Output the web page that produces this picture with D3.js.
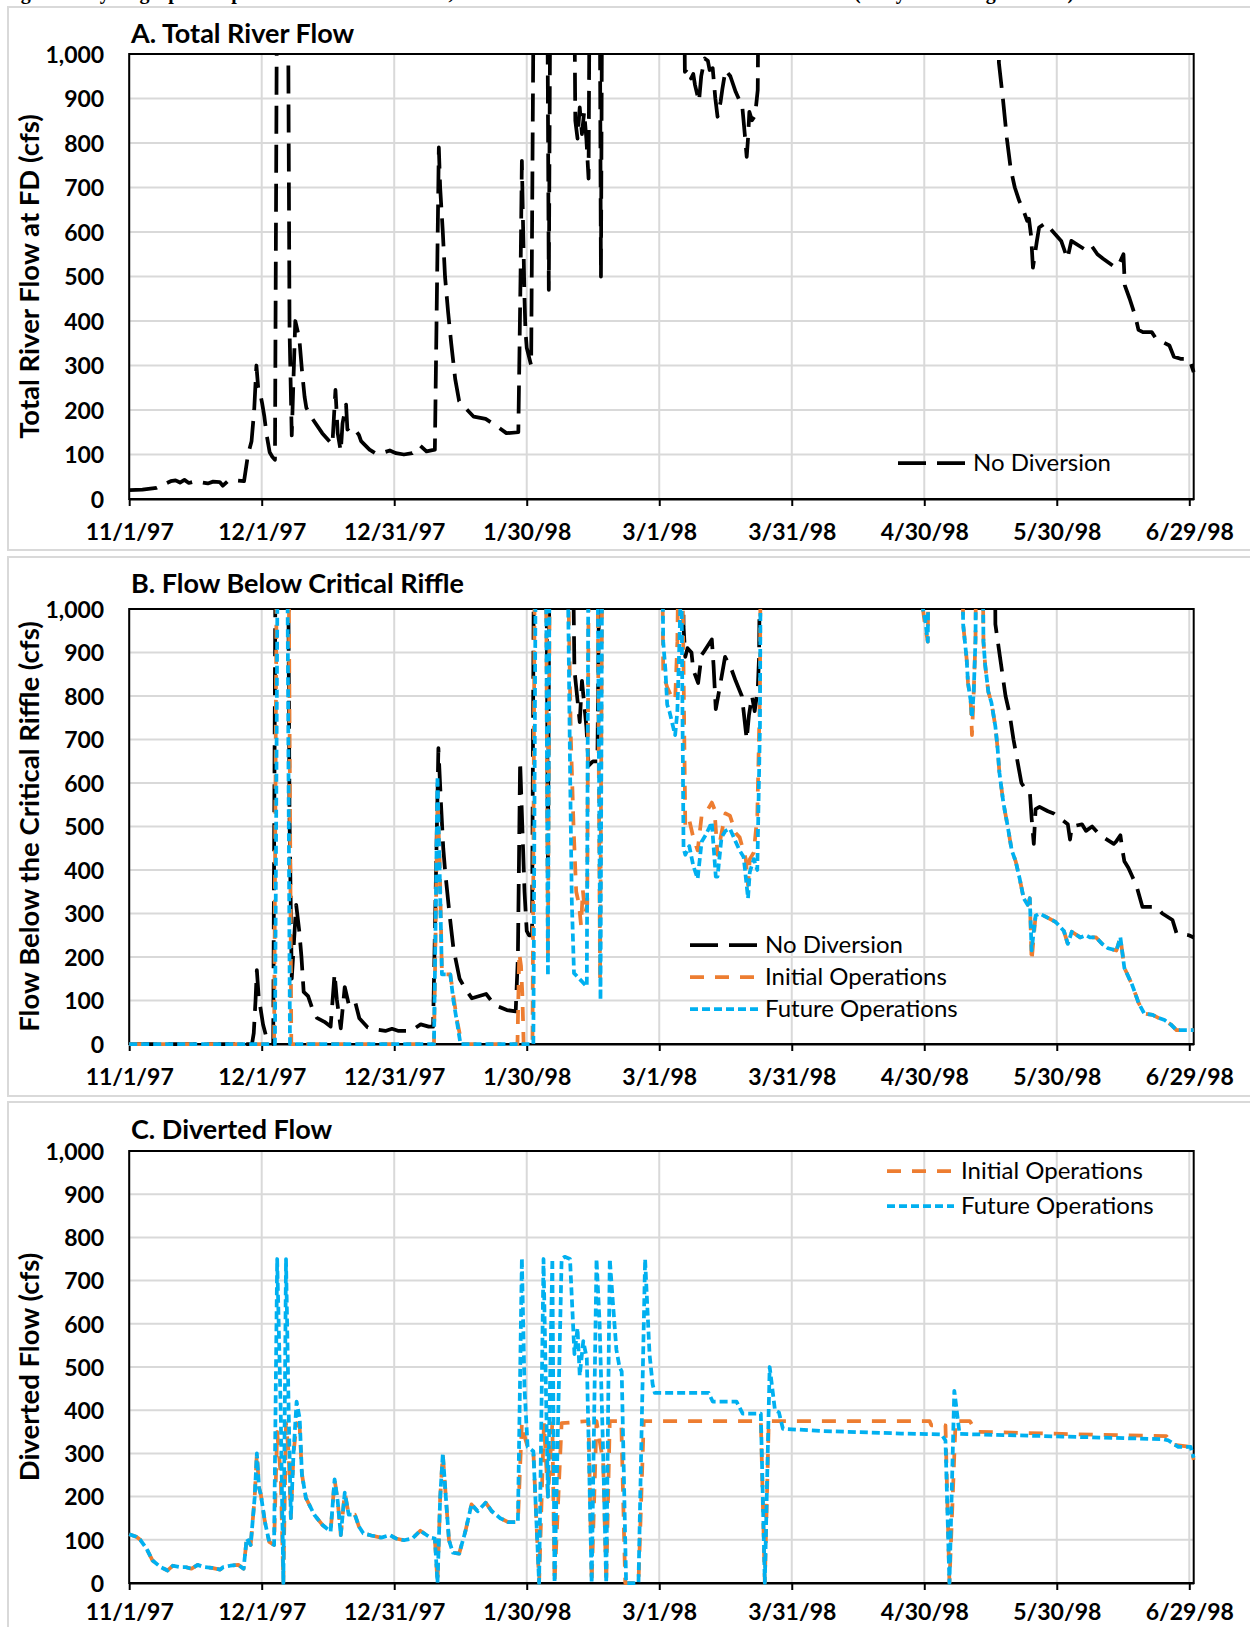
<!DOCTYPE html>
<html><head><meta charset="utf-8">
<script src="https://cdn.jsdelivr.net/npm/d3@7"></script>
<style>
body{margin:0;background:#fff}
svg{display:block}
text{font-family:Lato,"Open Sans",sans-serif}
</style>
</head><body>
<svg id="chart" width="1250" height="1627"></svg>
<script>
// ---------- DATA (day offset from 11/1/97, flow in cfs; 1500 = off-scale above 1,000) ----------
const startDate = Date.UTC(1997, 10, 1);
const lastDay = 241;
const tickDays = [0, 30, 60, 90, 120, 150, 180, 210, 240];
const tickLabels = ["11/1/97","12/1/97","12/31/97","1/30/98","3/1/98","3/31/98","4/30/98","5/30/98","6/29/98"];
const yTickValues = [0,100,200,300,400,500,600,700,800,900,1000];
const panelTitles = ["A. Total River Flow","B. Flow Below Critical Riffle","C. Diverted Flow"];
const axisTitles = ["Total River Flow at FD (cfs)","Flow Below the Critical Riffle (cfs)","Diverted Flow (cfs)"];
const seriesNames = ["No Diversion","Initial Operations","Future Operations"];
const captionText = "Figure 7. Hydrograph comparison of total river flow, flow below the critical riffle and diverted flow (wet year during 1997-98)";

const totalNoDiversion = [[0,20],[3,21],[6.2,25],[9.4,40],[10.5,42],[11.5,37],[12.5,43],[13.5,36],[15,40],[17.8,35],[19,39],[20.5,38],[21.2,30],[22.3,40],[24,42],[26,40],[26.9,100],[27.7,130],[28.3,200],[28.8,300],[29.2,250],[29.6,240],[30.1,215],[30.6,185],[31.1,145],[31.8,105],[32.4,95],[33,88],[33.6,1500],[35.8,1500],[36.3,380],[36.8,143],[37.6,400],[38.3,370],[38.6,350],[39.1,290],[39.7,230],[40.1,205],[41.5,180],[43.7,148],[46,122],[46.7,245],[47.2,148],[47.9,107],[48.3,170],[49.1,212],[49.4,156],[50.2,163],[51.1,156],[52,144],[52.5,130],[54.4,111],[55.7,103],[57.1,103],[59,109],[60.4,103],[62.2,100],[64.1,103],[65.9,120],[67.3,107],[69.2,111],[70.1,790],[70.4,700],[71,600],[71.5,500],[72.2,420],[72.9,350],[73.8,270],[74.7,220],[75.6,210],[78,185],[80.7,180],[83,165],[85.4,148],[88.1,150],[88.6,500],[88.9,760],[89.1,650],[89.3,550],[89.5,450],[89.7,380],[90,340],[90.5,320],[91,300],[91.8,1500],[94.5,1500],[95,470],[95.5,1500],[100.5,1500],[101,850],[101.5,810],[102,880],[102.5,820],[103,870],[103.5,810],[104,720],[104.4,1500],[106.4,1500],[106.8,500],[107.2,1500],[125.4,1500],[125.8,960],[126.5,968],[127.2,945],[127.7,955],[128.1,930],[129,893],[129.5,950],[130.3,990],[131,985],[131.4,964],[132.1,968],[132.7,900],[133.2,859],[133.9,893],[134.3,922],[135,964],[136.1,950],[137.3,915],[138.8,882],[139.4,816],[139.8,769],[140.1,810],[140.4,870],[141,851],[141.7,862],[142.3,919],[142.7,1500],[196.5,1500],[196.9,980],[197.8,900],[198.7,810],[199.6,740],[200.5,700],[201.5,670],[202.4,650],[203.3,625],[203.7,630],[204.2,590],[204.6,520],[205.5,580],[206,610],[207.4,620],[209.2,600],[211,580],[212.4,540],[213.3,580],[216.5,560],[217.8,570],[219.2,550],[220.5,540],[223.3,520],[224.2,530],[225.1,550],[225.4,480],[226.5,450],[227.8,410],[228.5,380],[229.5,375],[231.5,375],[232.5,360],[235.5,345],[236.5,320],[238,315],[240,315],[241,285]];

const belowNoDiversion = [[0,0],[27.8,0],[28.2,25],[28.6,100],[28.9,170],[29.3,110],[30.3,45],[31.2,10],[32.2,5],[32.6,0],[33.3,1500],[35.8,1500],[36.3,520],[36.8,150],[37.8,320],[38.5,260],[39,200],[39.5,120],[40.5,110],[41.5,80],[42.5,60],[44.2,51],[45.6,40],[46.5,162],[47,103],[47.9,36],[48.8,131],[49.8,87],[51.2,95],[52.1,59],[54,38],[56,33],[58,30],[59.5,35],[61,30],[63.7,30],[66,45],[67.8,40],[68.8,40],[70,680],[70.6,550],[71.1,450],[71.5,400],[72.5,300],[73.4,220],[74.8,150],[76.2,125],[77.6,105],[80.8,115],[82.7,90],[85.5,78],[87.5,75],[88,200],[88.5,650],[89,500],[89.5,350],[90,260],[90.5,250],[91.2,250],[91.8,1500],[94.3,1500],[94.8,400],[95.3,1500],[100,1500],[100.8,860],[101.5,790],[102,740],[102.5,835],[103.5,730],[104,640],[105,650],[106,650],[106.8,1500],[125.1,1500],[125.5,960],[125.9,890],[126.4,910],[127.3,900],[127.7,860],[128.8,830],[129.6,895],[130,900],[131.9,930],[132.3,870],[132.8,770],[133.7,820],[134.9,890],[136.4,860],[137.3,835],[138.7,800],[139.1,765],[139.8,700],[140.3,755],[141,800],[141.6,765],[142.3,815],[142.6,890],[143.1,1500],[195.8,1500],[196.1,965],[197,900],[198.4,800],[199.3,760],[200.2,700],[201.1,650],[202,600],[203,585],[203.9,580],[204.3,520],[204.8,460],[205.2,540],[206.1,545],[208,535],[209.3,530],[212.5,505],[213,470],[213.4,500],[215.7,505],[216.6,490],[218,500],[219.8,480],[222.9,460],[223.4,465],[224.4,480],[224.8,450],[225.3,420],[226.2,405],[227.1,385],[228,365],[229.4,315],[232.6,315],[233.9,300],[236.2,285],[237.1,255],[239.9,250],[241,245]];

const belowInitial = [[0,0],[32.8,0],[33.6,1500],[35.9,1500],[36.7,0],[69,0],[69.8,560],[70.3,420],[70.8,160],[72.7,160],[73.4,110],[74.3,50],[75.3,0],[87.9,0],[88.3,209],[88.7,180],[89,117],[89.3,0],[91.3,0],[92,1500],[94.2,1500],[94.8,200],[95.4,1500],[99,1500],[99.5,1000],[100,700],[100.6,500],[101.2,350],[101.8,323],[102.3,273],[102.7,354],[103.2,300],[103.7,320],[104.2,1500],[105.8,1500],[106.6,150],[107.3,1500],[120.4,1500],[120.9,850],[121.8,820],[122.7,800],[123.6,790],[124.1,925],[124.8,1500],[125.9,500],[126.8,515],[127.7,475],[128.7,445],[129.6,525],[130.5,530],[131.9,555],[132.5,540],[133.2,435],[134.1,485],[135,530],[136,525],[137.3,485],[138.2,475],[139.6,425],[140.1,365],[140.5,425],[141.4,440],[142.2,525],[142.8,810],[143.1,1500],[179,1500],[179.7,1000],[180.2,960],[180.8,925],[181.3,1500],[188.3,1500],[188.8,965],[189.6,885],[189.9,830],[190.5,790],[190.8,710],[191.2,810],[191.6,930],[192,1500],[192.9,1500],[193.4,925],[193.8,870],[194.5,810],[195.2,785],[196.1,730],[196.6,680],[197,625],[197.9,555],[198.9,500],[199.8,445],[200.7,420],[201.6,380],[202.5,335],[203.4,320],[203.9,335],[204.3,190],[205.2,295],[206.1,300],[208,290],[209.8,280],[211.6,260],[212.5,230],[213.4,258],[215.3,245],[216.6,250],[217.5,245],[218.9,245],[220.3,230],[221.6,220],[223.5,215],[224.4,245],[225.3,175],[226.2,155],[227.1,135],[228.5,95],[229.8,70],[231.7,67],[233,60],[234.4,55],[235.8,45],[237.1,32],[241,32]];

const belowFuture = [[0,0],[33,0],[33.8,1500],[35.6,1500],[36.4,0],[69,0],[69.8,615],[70.3,390],[70.8,160],[72.7,160],[73.4,100],[74.3,45],[75,0],[91.5,0],[92.2,1500],[94.2,1500],[94.8,157],[95.3,1500],[99,1500],[99.4,1000],[99.8,640],[100.2,330],[100.7,163],[103.6,132],[104.1,1500],[105.8,1500],[106.7,101],[107.2,1500],[120.3,1500],[120.9,925],[121.4,860],[121.8,780],[122.3,765],[123,735],[123.6,710],[124.1,765],[124.6,935],[125,1100],[125.5,450],[125.9,435],[126.8,455],[127.7,410],[128.7,380],[129.6,465],[130.5,480],[131.9,510],[132.8,385],[133.2,385],[134.1,475],[135,490],[136,495],[137.3,465],[138.2,445],[139.1,430],[140.1,335],[140.5,395],[141.4,425],[142.2,400],[142.8,730],[143.1,1500],[179,1500],[179.7,1000],[180.2,975],[180.8,925],[181.3,1500],[188.3,1500],[188.8,965],[189.6,885],[189.9,830],[190.5,790],[190.8,750],[191.2,810],[191.6,930],[192,1500],[192.9,1500],[193.4,925],[193.8,870],[194.5,810],[195.2,785],[196.1,730],[196.6,680],[197,625],[197.9,555],[198.9,500],[199.8,445],[200.7,420],[201.6,380],[202.5,335],[203.4,320],[203.9,335],[204.3,215],[205.2,295],[206.1,300],[208,290],[209.8,280],[211.6,260],[212.5,230],[213.4,258],[215.3,245],[216.6,250],[217.5,245],[218.9,245],[220.3,230],[221.6,220],[223.5,215],[224.4,245],[225.3,175],[226.2,155],[227.1,135],[228.5,95],[229.8,70],[231.7,67],[233,60],[234.4,55],[235.8,45],[237.1,32],[241,32]];

const divertedInitial = [[0,113],[1.6,107],[2.5,100],[3.9,80],[5.3,52],[7.1,37],[8.7,29],[9.9,40],[11.3,37],[12.7,37],[14.1,33],[15.5,42],[16.9,37],[18.7,35],[20.6,31],[21.3,37],[22.9,40],[24.7,42],[25.9,33],[26.6,103],[27.5,88],[28.4,197],[28.9,300],[29.4,220],[29.8,205],[30.7,143],[31.7,95],[32.8,88],[33.5,350],[34.3,250],[34.9,0],[35.5,370],[36.1,300],[36.6,150],[37.2,300],[37.9,370],[38.6,360],[39.1,252],[40,197],[41.9,158],[43.7,135],[45.6,119],[46.5,240],[47.2,190],[47.9,111],[48.8,209],[49.7,158],[51.1,158],[52,131],[53,115],[54.8,110],[57.1,105],[59,111],[60.4,103],[62.2,99],[64.1,103],[65.9,121],[68.2,105],[69.2,103],[69.8,0],[70.4,197],[71,299],[71.7,197],[72.4,99],[73.3,70],[74.7,68],[76.1,119],[77.5,182],[78.9,166],[80.7,186],[82.1,166],[84,150],[85.8,141],[88,141],[88.9,370],[89.5,340],[90.2,315],[91.5,305],[92.8,0],[93.9,370],[94.8,200],[95.8,370],[96.3,0],[97.9,370],[104,375],[104.7,0],[105.8,375],[106.5,330],[107.3,280],[108,0],[108.8,375],[111.4,375],[112.3,0],[115.3,0],[116.5,375],[143,375],[143.9,0],[144.8,375],[181.2,375],[181.6,365],[184.8,365],[185.7,0],[187.1,375],[190.3,375],[191.2,360],[192.1,350],[211.2,345],[234.8,340],[236.3,320],[240.3,315],[241,285]];

const divertedFuture = [[0,113],[1.6,107],[2.5,100],[3.9,80],[5.3,52],[7.1,37],[8.7,29],[9.9,40],[11.3,37],[12.7,37],[14.1,33],[15.5,42],[16.9,37],[18.7,35],[20.6,31],[21.3,37],[22.9,40],[24.7,42],[25.9,33],[26.6,103],[27.5,88],[28.4,197],[28.9,300],[29.4,220],[29.8,205],[30.7,143],[31.7,95],[32.8,88],[33.5,750],[34.3,400],[34.9,0],[35.5,750],[36.1,400],[36.6,150],[37.2,300],[37.9,420],[38.6,380],[39.1,252],[40,197],[41.9,158],[43.7,135],[45.6,119],[46.5,240],[47.2,190],[47.9,111],[48.8,209],[49.7,158],[51.1,158],[52,131],[53,115],[54.8,110],[57.1,105],[59,111],[60.4,103],[62.2,99],[64.1,103],[65.9,121],[68.2,105],[69.2,103],[69.8,0],[70.4,197],[71,299],[71.7,197],[72.4,99],[73.3,70],[74.7,68],[76.1,119],[77.5,182],[78.9,166],[80.7,186],[82.1,166],[84,150],[85.8,141],[88,141],[88.9,752],[89.5,450],[90.2,315],[91.5,305],[92.8,0],[93.8,750],[94.8,200],[95.8,750],[96.3,0],[97.9,750],[98.6,755],[99.8,750],[100.8,530],[101.5,590],[102,480],[102.8,560],[103.6,520],[104.7,0],[105.8,750],[106.5,600],[107.3,300],[108,0],[108.8,750],[109.5,650],[110.3,540],[111,500],[111.5,490],[112.5,0],[115.3,0],[116.8,750],[117.3,640],[117.8,530],[118.5,460],[119,440],[131.2,440],[132.1,420],[137.5,420],[138.9,392],[143,392],[143.9,0],[145,500],[146.2,400],[147.1,395],[148,357],[156.6,352],[174.8,346],[183.9,344],[184.8,330],[185.7,0],[186.8,445],[188,345],[211.2,339],[233.9,333],[235.3,330],[237.5,315],[240.3,315],[241,290]];

// ---------- DRAWING ----------
const svg = d3.select("#chart");
const dayMs = 864e5;
const toDate = d => new Date(startDate + d * dayMs);
const x = d3.scaleUtc().domain([toDate(0), toDate(lastDay)]).range([129.2, 1193.7]);
const tickDates = tickDays.map(toDate);
const labelByTime = new Map(tickDates.map((t, i) => [t.getTime(), tickLabels[i]]));

const styles = {
  "No Diversion":       {color: "#000000", dash: "28,11"},
  "Initial Operations": {color: "#ED7D31", dash: "14,11"},
  "Future Operations":  {color: "#00B0F0", dash: "8,4"}
};

const panels = [
  {frameTop: 7, frameBottom: 550, top: 54, bottom: 499, titleY: 43, labelY: 41,
   series: [[seriesNames[0], totalNoDiversion]],
   legend: {x1: 898, x2: 965, tx: 973, ys: [463], names: [seriesNames[0]]}},
  {frameTop: 557, frameBottom: 1096, top: 609, bottom: 1044, titleY: 593, labelY: 41,
   series: [[seriesNames[0], belowNoDiversion], [seriesNames[1], belowInitial], [seriesNames[2], belowFuture]],
   legend: {x1: 690, x2: 758, tx: 765, ys: [945, 977, 1009], names: seriesNames}},
  {frameTop: 1102, frameBottom: 1660, top: 1151, bottom: 1583, titleY: 1139, labelY: 37,
   series: [[seriesNames[1], divertedInitial], [seriesNames[2], divertedFuture]],
   legend: {x1: 887, x2: 954, tx: 961, ys: [1171, 1206], names: [seriesNames[1], seriesNames[2]]}}
];

// caption (cut off at top of page, as in the source figure)
svg.append("text").attr("x", 3).attr("y", -1)
  .style("font-family", "'Liberation Serif', serif").style("font-weight", "bold").style("font-size", "20px")
  .text(captionText);

const [X0, X1] = x.range();

panels.forEach((p, pi) => {
  const g = svg.append("g");
  g.append("rect").attr("x", 8).attr("y", p.frameTop).attr("width", 1270).attr("height", p.frameBottom - p.frameTop)
    .attr("fill", "none").attr("stroke", "#d9d9d9").attr("stroke-width", 2);

  const y = d3.scaleLinear().domain([0, 1000]).range([p.bottom, p.top]);

  g.append("g").selectAll("line").data(yTickValues).join("line")
    .attr("x1", X0).attr("x2", X1).attr("y1", d => y(d)).attr("y2", d => y(d))
    .attr("stroke", "#d9d9d9").attr("stroke-width", 2);
  g.append("g").selectAll("line").data(tickDates).join("line")
    .attr("x1", d => x(d)).attr("x2", d => x(d)).attr("y1", p.top).attr("y2", p.bottom)
    .attr("stroke", "#d9d9d9").attr("stroke-width", 2);

  g.append("rect").attr("x", X0).attr("y", p.top).attr("width", X1 - X0).attr("height", p.bottom - p.top)
    .attr("fill", "none").attr("stroke", "#000").attr("stroke-width", 2);

  const xAxis = g.append("g").attr("transform", `translate(0,${p.bottom})`)
    .call(d3.axisBottom(x).tickValues(tickDates).tickFormat(d => labelByTime.get(d.getTime())).tickSize(7).tickSizeOuter(0));
  xAxis.select(".domain").attr("stroke", "#000").attr("stroke-width", 2);
  xAxis.selectAll(".tick line").attr("stroke", "#000").attr("stroke-width", 2);
  xAxis.selectAll(".tick text").attr("y", p.labelY).attr("dy", 0)
    .style("font-family", "Lato").style("font-weight", "bold").style("font-size", "23px").attr("fill", "#000");

  const yAxis = g.append("g").attr("transform", `translate(${X0},0)`)
    .call(d3.axisLeft(y).tickValues(yTickValues).tickFormat(d3.format(",")).tickSize(0).tickPadding(25));
  yAxis.select(".domain").remove();
  yAxis.selectAll(".tick text").attr("dy", "0.36em")
    .style("font-family", "Lato").style("font-weight", "bold").style("font-size", "23px").attr("fill", "#000");

  g.append("text").attr("x", 131).attr("y", p.titleY)
    .style("font-weight", "bold").style("font-size", "27px").text(panelTitles[pi]);

  g.append("text").attr("transform", `translate(39,${(p.top + p.bottom) / 2}) rotate(-90)`)
    .attr("text-anchor", "middle").style("font-weight", "bold").style("font-size", "27.5px").text(axisTitles[pi]);

  const clipId = "clip" + pi;
  svg.append("defs").append("clipPath").attr("id", clipId).append("rect")
    .attr("x", X0 - 3).attr("y", p.top).attr("width", X1 - X0 + 6).attr("height", p.bottom - p.top + 4);

  const line = d3.line().x(d => x(toDate(d[0]))).y(d => y(d[1]));
  const sg = g.append("g").attr("clip-path", `url(#${clipId})`);
  p.series.forEach(([name, data]) => {
    sg.append("path").datum(data).attr("d", line)
      .attr("fill", "none").attr("stroke", styles[name].color).attr("stroke-width", 3.75)
      .attr("stroke-dasharray", styles[name].dash).attr("stroke-linejoin", "round");
  });

  const lg = g.append("g");
  p.legend.names.forEach((name, i) => {
    const ly = p.legend.ys[i];
    lg.append("line").attr("x1", p.legend.x1).attr("x2", p.legend.x2).attr("y1", ly).attr("y2", ly)
      .attr("stroke", styles[name].color).attr("stroke-width", 3.75).attr("stroke-dasharray", styles[name].dash);
    lg.append("text").attr("x", p.legend.tx).attr("y", ly).attr("dy", "0.35em")
      .style("font-size", "24px").text(name);
  });
});
</script>
</body></html>
